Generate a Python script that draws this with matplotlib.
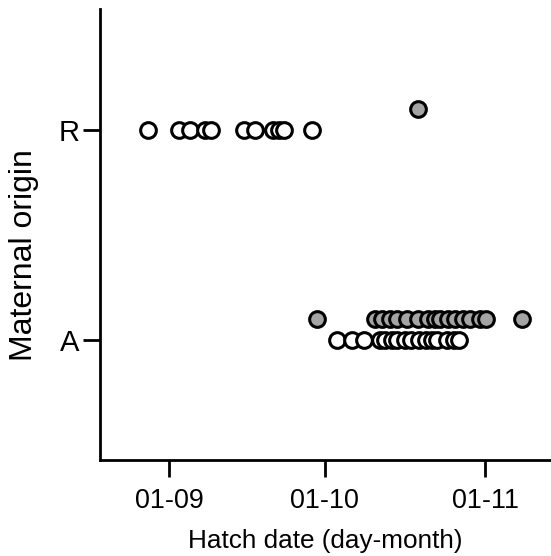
import matplotlib
matplotlib.use("Agg")
import matplotlib.pyplot as plt

plt.rcParams['font.family'] = ['Liberation Sans', 'DejaVu Sans']

# Days since 1 September
tick_days = [0, 30, 61]
tick_labels = ["01-09", "01-10", "01-11"]

categories = ["A", "R"]

r_white = [-4.1, 1.9, 4.0, 6.9, 8.1, 14.4, 16.5, 20.0, 21.2, 22.1, 27.5]
r_grey = [48.0]
a_white = [32.4, 35.3, 37.6, 40.7, 41.6, 43.0, 44.0, 45.5, 46.7, 48.2,
           49.6, 50.7, 51.7, 53.6, 55.0, 55.9]
a_grey = [28.5, 39.7, 41.1, 42.6, 44.0, 45.9, 48.0, 49.9, 51.3, 52.3,
          53.8, 55.2, 56.7, 58.0, 60.0, 61.1, 68.1]

grey_offset = 0.1

fig = plt.figure(figsize=(5.51, 5.56), dpi=100)
ax = fig.add_axes([100/551, 96/556, 451/551, 451/556])

mk = dict(linestyle='none', marker='o', markersize=11.3, markeredgewidth=2.2,
          markeredgecolor='black')

ax.plot(r_white, [1]*len(r_white), markerfacecolor='white', **mk)
ax.plot(a_white, [0]*len(a_white), markerfacecolor='white', **mk)
ax.plot(r_grey, [1 + grey_offset]*len(r_grey), markerfacecolor='#a4a4a4', **mk)
ax.plot(a_grey, [0 + grey_offset]*len(a_grey), markerfacecolor='#a4a4a4', **mk)

ax.set_xlim(-13.4, 73.7)
ax.set_ylim(-0.574, 1.577)

ax.set_xticks(tick_days)
ax.set_xticklabels(tick_labels)
ax.set_yticks([0, 1])
ax.set_yticklabels(categories)

for s in ['top', 'right']:
    ax.spines[s].set_visible(False)
for s in ['left', 'bottom']:
    ax.spines[s].set_linewidth(2.0)

ax.tick_params(axis='both', direction='out', length=12, width=2.0, pad=3)
ax.tick_params(axis='x', labelsize=19.4, pad=8)
ax.tick_params(axis='y', labelsize=21)

ax.set_xlabel("Hatch date (day-month)", fontsize=18.8, labelpad=11)
ax.set_ylabel("Maternal origin", fontsize=23)
ax.yaxis.set_label_coords(-61/451, 0.455)

fig.savefig("out.png", dpi=100)
